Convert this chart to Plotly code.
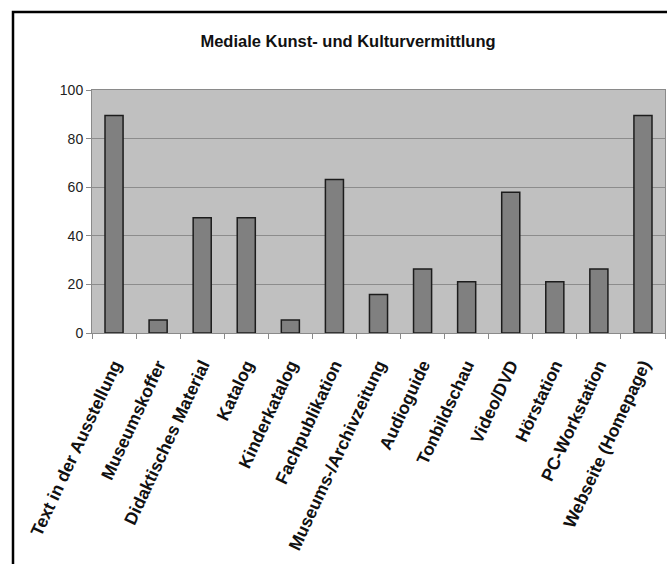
import plotly.graph_objects as go

# Share of institutions (%) using each medium
categories = [
    "Text in der Ausstellung",
    "Museumskoffer",
    "Didaktisches Material",
    "Katalog",
    "Kinderkatalog",
    "Fachpublikation",
    "Museums-/Archivzeitung",
    "Audioguide",
    "Tonbildschau",
    "Video/DVD",
    "Hörstation",
    "PC-Workstation",
    "Webseite (Homepage)",
]
values = [89.5, 5.3, 47.4, 47.4, 5.3, 63.2, 15.8, 26.3, 21.1, 57.9, 21.1, 26.3, 89.5]
y_ticks = [0, 20, 40, 60, 80, 100]

W, H = 667, 564
L, R, T, B = 92, 2, 90, 231
pw, ph = W - L - R, H - T - B


def px_to_paper_x(px):
    return (px - L) / pw


def px_to_paper_y(py):
    return (H - B - py) / ph


fig = go.Figure(
    go.Bar(
        x=categories,
        y=values,
        width=0.41,
        marker=dict(color="#808080", line=dict(color="#1c1c1c", width=1.5)),
    )
)

fig.update_layout(
    width=W,
    height=H,
    margin=dict(l=L, r=R, t=T, b=B),
    paper_bgcolor="white",
    plot_bgcolor="#c0c0c0",
    showlegend=False,
    font=dict(family="Liberation Sans, Arial, sans-serif", color="#111111"),
    title=dict(
        text="<b>Mediale Kunst- und Kulturvermittlung</b>",
        font=dict(size=16.5, color="#111111"),
        x=348 / W,
        xanchor="center",
        y=1 - 41 / H,
        yanchor="middle",
    ),
    shapes=[
        # outer chart frame (only its top and left edges fall inside the page)
        dict(
            type="rect",
            xref="paper",
            yref="paper",
            x0=px_to_paper_x(13),
            x1=px_to_paper_x(W + 20),
            y0=px_to_paper_y(H + 20),
            y1=px_to_paper_y(12),
            line=dict(color="#000000", width=2.5),
            fillcolor="rgba(0,0,0,0)",
            layer="above",
        )
    ],
)

fig.update_xaxes(
    type="category",
    tickangle=-65,
    tickfont=dict(size=17.5, color="#111111", family="Liberation Sans, Arial, sans-serif", weight="bold"),
    showline=True,
    linecolor="#8a8a8a",
    linewidth=1,
    mirror=True,
    ticks="outside",
    tickson="boundaries",
    ticklen=5,
    tickcolor="#8a8a8a",
    ticklabelstandoff=14,
    showgrid=False,
)

fig.update_yaxes(
    range=[0, 100],
    tickvals=y_ticks,
    tickfont=dict(size=14, color="#222222"),
    showline=True,
    linecolor="#8a8a8a",
    linewidth=1,
    mirror=True,
    ticks="outside",
    ticklen=5,
    tickcolor="#8a8a8a",
    showgrid=True,
    gridcolor="#8c8c8c",
    gridwidth=1,
    zeroline=False,
)

fig.write_html("out.html")
